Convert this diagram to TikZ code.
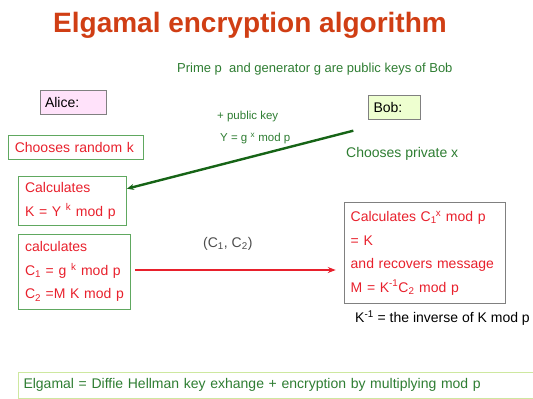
\documentclass[tikz,border=0pt]{standalone}
\usepackage{fontspec}
\setmainfont{Liberation Sans}
\usepackage{xcolor}
\usepackage{tikz}
\usetikzlibrary{arrows.meta}

\definecolor{titlered}{RGB}{208,62,20}
\definecolor{txtred}{RGB}{232,32,44}
\definecolor{txtgreen}{RGB}{46,125,50}
\definecolor{arrgreen}{RGB}{22,100,22}
\definecolor{boxgreen}{RGB}{96,168,96}
\definecolor{alicepink}{RGB}{255,226,250}
\definecolor{bobyellow}{RGB}{238,255,208}
\definecolor{notegreen}{RGB}{206,232,160}

\begin{document}
\begin{tikzpicture}[x=1pt, y=-1pt,
    txt/.style={font=\fontsize{14}{23.5}\selectfont},
    small/.style={font=\fontsize{11.5}{13}\selectfont},
    person/.style={draw=gray, line width=1pt, txt, align=left, inner xsep=5pt, inner ysep=0pt},
    stepbox/.style={draw=boxgreen, line width=0.9pt, text=txtred, txt, align=left, inner xsep=6.5pt, inner ysep=0pt}]

    \useasboundingbox (0,0) rectangle (533,399);

    % Titel
    \node[titlered, anchor=base, font=\fontsize{28}{30}\selectfont\bfseries] (title) at (250,32) {Elgamal encryption algorithm};
    \node[txtgreen, anchor=base west, inner sep=0pt, font=\fontsize{13}{15}\selectfont] (keys) at (177,72) {Prime p\ \ and generator g are public keys of Bob};

    % Alice en Bob
    \node[person, fill=alicepink, text width=56pt, minimum height=24.3pt] (alice) at (73,102.2) {Alice:};
    \node[person, fill=bobyellow, text width=42pt, minimum height=24pt] (bob) at (394.5,107) {Bob:};

    % Alice kant
    \node[stepbox, text width=122pt, minimum height=24pt] (random) at (75.8,147.2) {Chooses random k};
    \node[stepbox, text width=95pt, minimum height=49.3pt] (calc) at (72.5,200.7)
        {Calculates\\K = Y \textsuperscript{k} mod p};
    \node[stepbox, text width=99pt, minimum height=75pt] (enc) at (74.5,271.8)
        {calculates\\C\textsubscript{1} = g \textsuperscript{k} mod p\\C\textsubscript{2} =M K mod p};

    % Bob kant
    \node[txtgreen, txt, anchor=base west, inner sep=0pt] (private) at (346,157) {Chooses private x};
    \node[stepbox, draw=gray, text width=148pt, minimum height=100.7pt] (dec) at (424.7,253)
        {Calculates C\textsubscript{1}\kern-1pt\textsuperscript{x} mod p\\= K\\and recovers message\\M = K\textsuperscript{-1}C\textsubscript{2} mod p};
    \node[txt, anchor=base west, inner sep=0pt] (inverse) at (355,322.5) {K\textsuperscript{-1} = the inverse of K mod p};

    % Publieke sleutel
    \coordinate (ykey) at (353.3,130.7);
    \node[txtgreen, small, anchor=base west, inner sep=0pt] (plus) at (217,119.5) {+ public key};
    \node[txtgreen, small, anchor=base west, inner sep=0pt] (yval) at (220,141.5) {Y = g \textsuperscript{x} mod p};
    \draw[-{Stealth[length=7pt, width=6pt]}, arrgreen, line width=2.4pt] (ykey) -- ([yshift=12pt]calc.east);

    % Cijfertekst
    \node[txt, text=black!70, anchor=base west, inner sep=0pt] (cpair) at (203,247) {(C\textsubscript{1}, C\textsubscript{2})};
    \draw[-{Stealth[length=8pt, width=6pt]}, txtred, line width=2pt] ([xshift=4pt, yshift=1.8pt]enc.east) -- ([xshift=-8pt, yshift=1.8pt]enc.east -| dec.west);

    % Samenvatting
    \node[draw=notegreen, line width=1pt, text=txtgreen, txt, anchor=west, align=left, inner xsep=5pt, inner ysep=0pt,
        text width=512pt, minimum height=26pt] (summary) at (18,385.3)
        {Elgamal = Diffie Hellman key exhange + encryption by multiplying mod p};

\end{tikzpicture}
\end{document}
